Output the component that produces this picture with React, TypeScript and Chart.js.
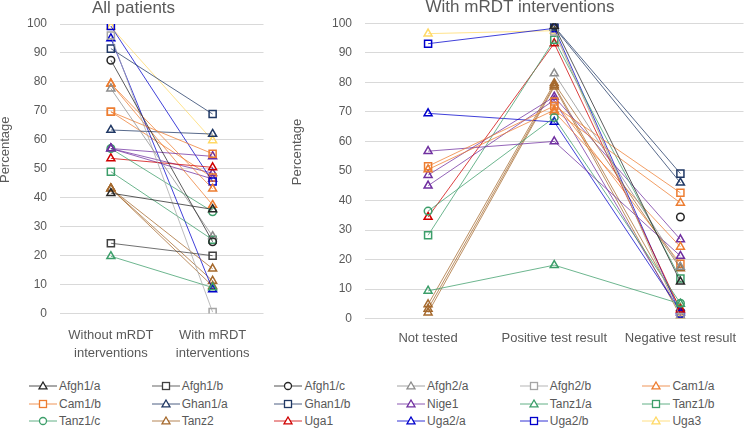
import React, { useEffect, useRef } from 'react';
import { Chart, registerables } from 'chart.js';

Chart.register(...registerables);

const FONT = '"Liberation Sans", Arial, sans-serif';
const TEXT = '#595959';
const GRID = '#d9d9d9';

// Series shown in the legend
const seriesNames = [
  'Afgh1/a', 'Afgh1/b', 'Afgh1/c', 'Afgh2/a', 'Afgh2/b', 'Cam1/a',
  'Cam1/b', 'Ghan1/a', 'Ghan1/b', 'Nige1', 'Tanz1/a', 'Tanz1/b',
  'Tanz1/c', 'Tanz2', 'Uga1', 'Uga2/a', 'Uga2/b', 'Uga3',
];
const seriesColors = [
  '#262626', '#404040', '#262626', '#8c8c8c', '#a5a5a5', '#ed7d31',
  '#ed7d31', '#203864', '#203864', '#7030a0', '#3c9e6a', '#3c9e6a',
  '#3c9e6a', '#a5692d', '#d00000', '#0000cc', '#0000cc', '#ffd966',
];
const seriesMarkers = [
  'triangle', 'rect', 'circle', 'triangle', 'rect', 'triangle',
  'rect', 'triangle', 'rect', 'triangle', 'triangle', 'rect',
  'circle', 'triangle', 'triangle', 'triangle', 'rect', 'triangle',
];

// Left panel: All patients
const allPatientsCategories = [['Without mRDT', 'interventions'], ['With mRDT', 'interventions']];
const allPatientsValues = [
  [41.6, 36.0], [24.3, 20.0], [87.5, 24.8], [77.7, 26.7], [96.0, 0.5], [79.4, 43.1],
  [69.7, 55.2], [63.4, 62.0], [91.5, 68.9], [57.0, 54.3], [19.8, 9.0], [49.0, 25.5],
  [57.0, 35.2], [43.2, 15.5], [53.6, 50.5], [95.0, 8.3], [99.3, 45.6], [99.0, 59.8],
];

// Right panel: With mRDT interventions
const mrdtCategories = ['Not tested', 'Positive test result', 'Negative test result'];
const mrdtValues = [
  [null, 99.1, 12.5], [null, null, null], [null, null, 34.4], [null, 83.0, 17.5], [null, 97.2, 0.5], [50.5, 70.6, 39.2],
  [51.6, 72.0, 42.6], [null, 98.6, 46.0], [null, 98.9, 49.1], [56.7, 60.0, 21.2], [9.4, 18.1, 5.0], [28.2, 94.4, 13.6],
  [36.4, 68.1, 5.2], [4.8, 79.7, 17.0], [34.4, 93.2, 3.0], [69.5, 66.6, 2.5], [93.1, 98.3, 1.7], [96.5, 97.5, 0.5],
];

// Additional unlabeled lines visible in the chart (not in the legend)
const extraColors = ['#ed7d31', '#ed7d31', '#7030a0', '#7030a0', '#a5692d', '#a5692d'];
const extraMarkers = ['triangle', 'rect', 'triangle', 'triangle', 'triangle', 'triangle'];
const extraAllPatients = [[79.4, 37.5], [69.7, 47.0], [57.0, 48.5], [57.0, 46.5], [43.2, 11.3], [43.2, 9.5]];
const extraMrdt = [[null, 70.0, 24.3], [null, 73.5, 18.6], [48.6, 75.1, 26.8], [45.0, 74.0, 2.0], [3.3, 79.0, 3.5], [2.0, 78.5, 1.0]];

const yMin = 0;
const yMax = 100;
const yStep = 10;

function radiusFor(m: string) {
  return m === 'rect' ? 5 : m === 'circle' ? 3.8 : 4.6;
}

function buildDatasets(values: (number | null)[][], extra: (number | null)[][]) {
  const main = values.map((v, i) => ({
    label: seriesNames[i],
    data: v,
    borderColor: seriesColors[i],
    borderWidth: 0.75,
    pointStyle: seriesMarkers[i],
    pointRadius: radiusFor(seriesMarkers[i]),
    pointBorderColor: seriesColors[i],
    pointBackgroundColor: 'rgba(0,0,0,0)',
    pointBorderWidth: 1.5,
    tension: 0,
  }));
  const more = extra.map((v, i) => ({
    label: '',
    data: v,
    borderColor: extraColors[i],
    borderWidth: 0.75,
    pointStyle: extraMarkers[i],
    pointRadius: radiusFor(extraMarkers[i]),
    pointBorderColor: extraColors[i],
    pointBackgroundColor: 'rgba(0,0,0,0)',
    pointBorderWidth: 1.5,
    tension: 0,
  }));
  return [...main, ...more];
}

function yTitlePlugin(x: number) {
  return {
    id: 'yTitleCustom',
    afterDraw(chart: any) {
      const { ctx, chartArea } = chart;
      ctx.save();
      ctx.translate(x, (chartArea.top + chartArea.bottom) / 2 - 19);
      ctx.rotate(-Math.PI / 2);
      ctx.font = '13px ' + FONT;
      ctx.fillStyle = TEXT;
      ctx.textAlign = 'center';
      ctx.textBaseline = 'middle';
      ctx.fillText('Percentage', 0, 0);
      ctx.restore();
    },
  };
}

function makeConfig(opts: {
  labels: any[];
  datasets: any[];
  title: string;
  titleLineHeight: number;
  titlePadBottom: number;
  yWidth: number;
  xPad: number;
  titleX: number;
}) {
  return {
    type: 'line',
    data: { labels: opts.labels, datasets: opts.datasets },
    options: {
      responsive: false,
      animation: false,
      events: [],
      layout: { padding: { left: 0, right: 0, top: 0, bottom: 0 } },
      plugins: {
        legend: { display: false },
        tooltip: { enabled: false },
        title: {
          display: true,
          text: opts.title,
          color: TEXT,
          font: { family: FONT, size: 17, weight: 'normal', lineHeight: opts.titleLineHeight },
          padding: { top: 0, bottom: opts.titlePadBottom },
        },
      },
      scales: {
        x: {
          type: 'category',
          offset: true,
          grid: { display: false, drawTicks: false },
          border: { display: false },
          ticks: {
            color: TEXT,
            font: { family: FONT, size: 13, lineHeight: 1.4 },
            padding: opts.xPad,
            maxRotation: 0,
            autoSkip: false,
          },
        },
        y: {
          min: yMin,
          max: yMax,
          grid: { color: GRID, lineWidth: 1, drawTicks: false },
          border: { display: false },
          ticks: {
            stepSize: yStep,
            color: TEXT,
            font: { family: FONT, size: 12 },
            padding: 13,
          },
          afterFit(scale: any) {
            scale.width = opts.yWidth;
          },
        },
      },
    },
    plugins: [yTitlePlugin(opts.titleX)],
  } as any;
}

function LegendMarker({ color, marker }: { color: string; marker: string }) {
  let shape: React.ReactNode;
  if (marker === 'rect') {
    shape = <rect x={10.5} y={2.5} width={7} height={7} fill="#fff" stroke={color} strokeWidth={1.3} />;
  } else if (marker === 'circle') {
    shape = <circle cx={14} cy={6} r={3.5} fill="#fff" stroke={color} strokeWidth={1.3} />;
  } else {
    shape = <polygon points="14,2 18,8.8 10,8.8" fill="#fff" stroke={color} strokeWidth={1.3} />;
  }
  return (
    <svg width={28} height={12} style={{ display: 'block', flex: 'none' }}>
      <line x1={0} y1={6} x2={28} y2={6} stroke={color} strokeWidth={1} opacity={0.8} />
      {shape}
    </svg>
  );
}

export default function App() {
  const leftRef = useRef<HTMLCanvasElement | null>(null);
  const rightRef = useRef<HTMLCanvasElement | null>(null);

  useEffect(() => {
    if (!leftRef.current || !rightRef.current) return;
    const left = new Chart(
      leftRef.current,
      makeConfig({
        labels: allPatientsCategories,
        datasets: buildDatasets(allPatientsValues, extraAllPatients),
        title: 'All patients',
        titleLineHeight: 1.0,
        titlePadBottom: 7,
        yWidth: 63,
        xPad: 12.5,
        titleX: 8,
      })
    );
    const right = new Chart(
      rightRef.current,
      makeConfig({
        labels: mrdtCategories,
        datasets: buildDatasets(mrdtValues, extraMrdt),
        title: 'With mRDT interventions',
        titleLineHeight: 0.9,
        titlePadBottom: 8,
        yWidth: 75,
        xPad: 10.6,
        titleX: 7.5,
      })
    );
    return () => {
      left.destroy();
      right.destroy();
    };
  }, []);

  return (
    <div style={{ position: 'absolute', left: 0, top: 0, width: 750, height: 428, overflow: 'hidden', background: '#fff', fontFamily: FONT }}>
      <canvas ref={leftRef} width={273} height={375} style={{ position: 'absolute', left: -3, top: 0 }} />
      <canvas ref={rightRef} width={460} height={358} style={{ position: 'absolute', left: 290, top: 0 }} />
      <div
        style={{
          position: 'absolute',
          left: 29,
          top: 377,
          display: 'grid',
          gridTemplateColumns: 'repeat(6, 122.7px)',
          gridAutoRows: '17.8px',
        }}
      >
        {seriesNames.map((name, i) => (
          <div key={name} style={{ display: 'flex', alignItems: 'center', whiteSpace: 'nowrap' }}>
            <LegendMarker color={seriesColors[i]} marker={seriesMarkers[i]} />
            <span style={{ marginLeft: 2, fontSize: 12, color: TEXT, lineHeight: '14px' }}>{name}</span>
          </div>
        ))}
      </div>
    </div>
  );
}
